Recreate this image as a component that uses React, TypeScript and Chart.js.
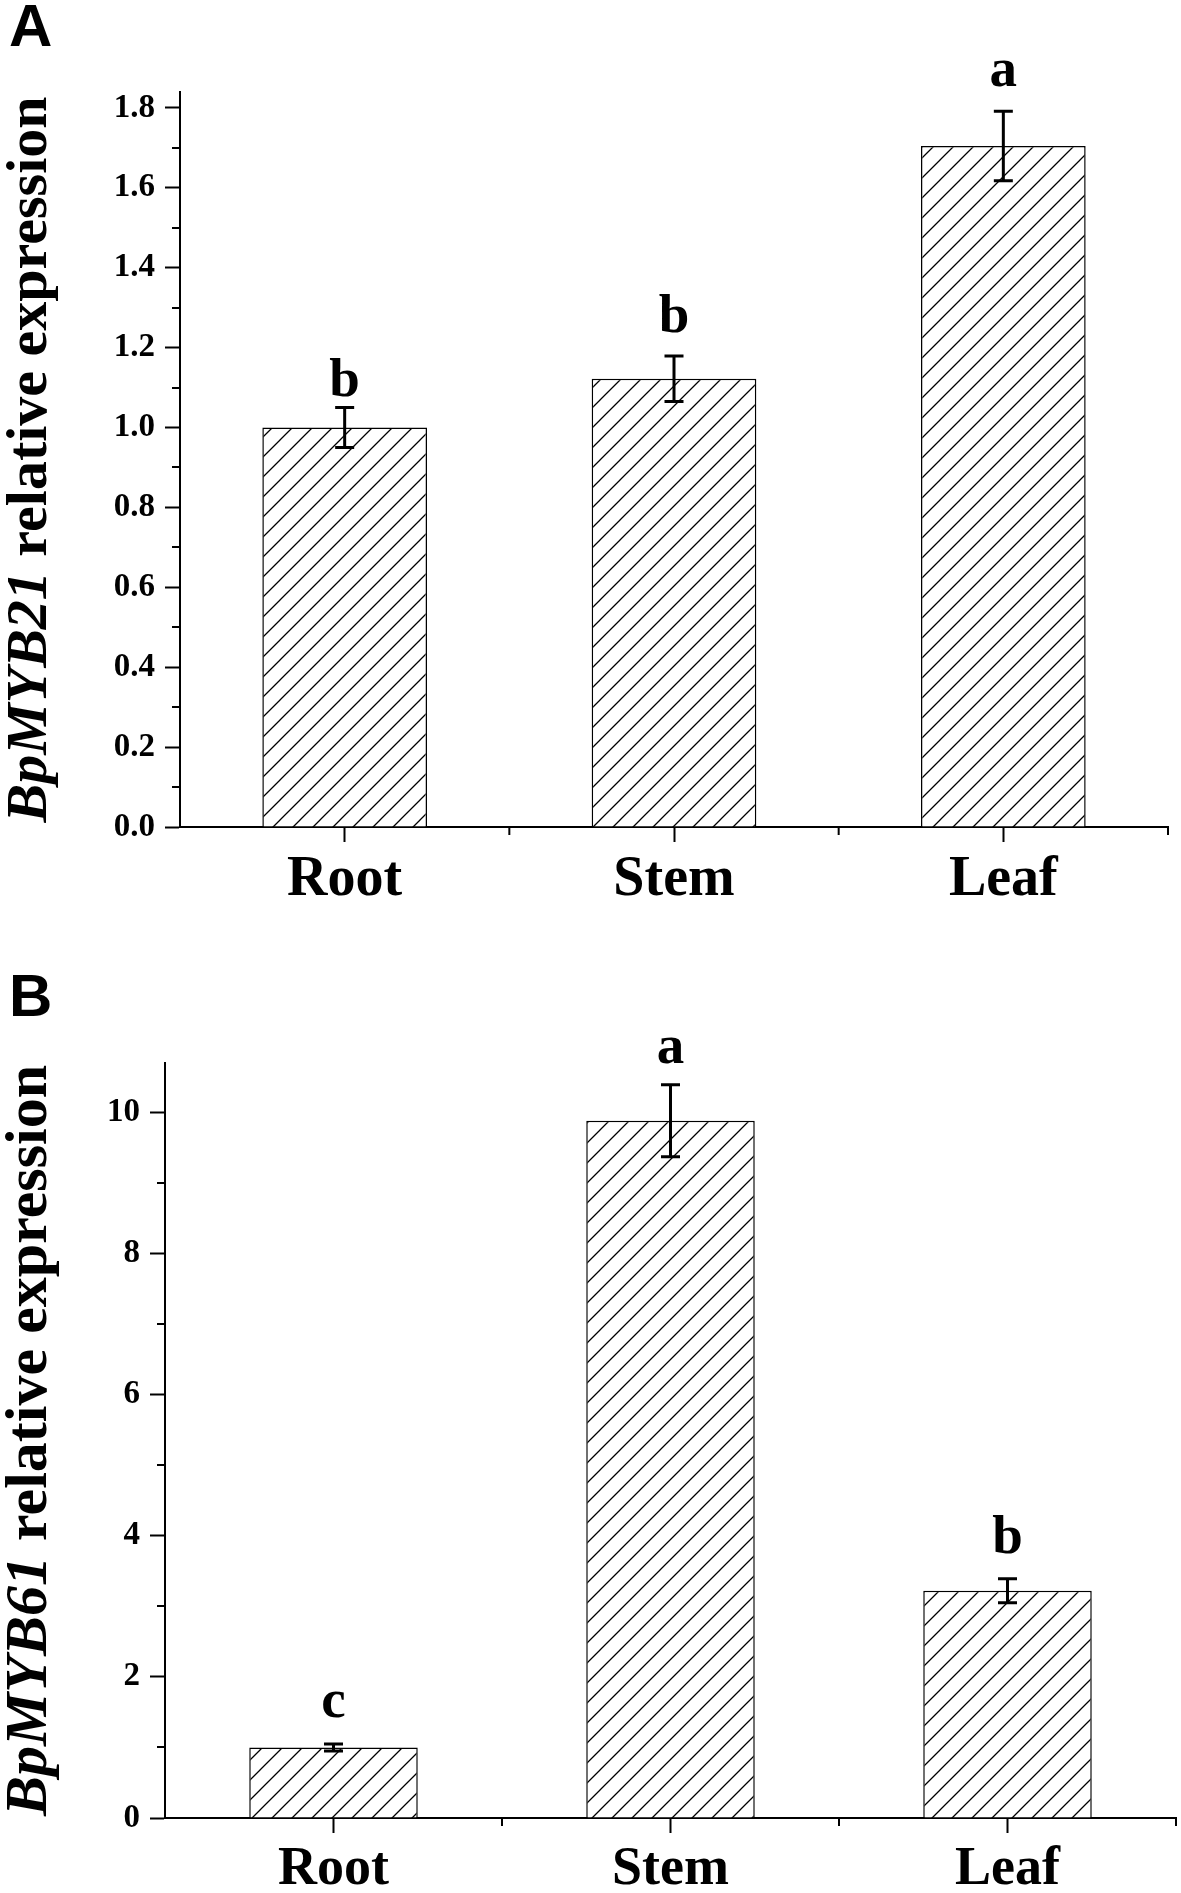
import React, { useEffect, useRef } from "react";
import { Chart, registerables } from "chart.js";

Chart.register(...registerables);

// ---------- data ----------
const categories = ["Root", "Stem", "Leaf"];

const valuesA = [1.0, 1.122, 1.705];
const errorsA = [0.05, 0.057, 0.087];
const lettersA = ["b", "b", "a"];
const letterBaseA = [1.08, 1.24, 1.855];
const geneA = "BpMYB21";
const yMaxA = 1.84;
const yStepA = 0.2;

const valuesB = [1.0, 9.88, 3.22];
const errorsB = [0.05, 0.51, 0.17];
const lettersB = ["c", "a", "b"];
const letterBaseB = [1.43, 10.7, 3.76];
const geneB = "BpMYB61";
const yMaxB = 10.7;
const yStepB = 2;

const titleRest = " relative expression";
const SERIF = "'Liberation Serif', 'Times New Roman', serif";
const SANS = "'Liberation Sans', Arial, sans-serif";

function makeHatch(): CanvasPattern | string {
  const c = document.createElement("canvas");
  const s = 20;
  c.width = s;
  c.height = s;
  const g = c.getContext("2d");
  if (!g) return "#fff";
  g.fillStyle = "#fff";
  g.fillRect(0, 0, s, s);
  g.strokeStyle = "#000";
  g.lineWidth = 1.3;
  g.beginPath();
  g.moveTo(-2, s + 2);
  g.lineTo(s + 2, -2);
  g.moveTo(-2, 2);
  g.lineTo(2, -2);
  g.moveTo(s - 2, s + 2);
  g.lineTo(s + 2, s - 2);
  g.stroke();
  const p = g.createPattern(c, "repeat");
  return p || "#fff";
}

const overlayPlugin = {
  id: "overlay",
  afterDraw(chart: any, _args: any, opts: any) {
    const { ctx, chartArea } = chart;
    const xs = chart.scales.x;
    const ys = chart.scales.y;
    const meta = chart.getDatasetMeta(0);
    ctx.save();
    ctx.strokeStyle = "#000";
    ctx.fillStyle = "#000";

    // minor y ticks
    ctx.lineWidth = 2;
    const yMax = ys.max;
    for (let v = opts.yStep / 2; v < yMax; v += opts.yStep) {
      const py = Math.round(ys.getPixelForValue(v));
      ctx.beginPath();
      ctx.moveTo(chartArea.left - 8, py);
      ctx.lineTo(chartArea.left, py);
      ctx.stroke();
    }
    // minor x ticks at category boundaries
    for (let k = 0; k < opts.values.length; k++) {
      const px = xs.getPixelForValue(k + 0.5);
      ctx.beginPath();
      ctx.moveTo(px, chartArea.bottom);
      ctx.lineTo(px, chartArea.bottom + 8);
      ctx.stroke();
    }

    // error bars
    ctx.lineWidth = 3;
    opts.values.forEach((v: number, i: number) => {
      const bar = meta.data[i];
      const cx = bar.x;
      const e = opts.errors[i];
      const top = ys.getPixelForValue(v + e);
      const bot = ys.getPixelForValue(v - e);
      ctx.beginPath();
      ctx.moveTo(cx, top);
      ctx.lineTo(cx, bot);
      ctx.moveTo(cx - 9.5, top);
      ctx.lineTo(cx + 9.5, top);
      ctx.moveTo(cx - 9.5, bot);
      ctx.lineTo(cx + 9.5, bot);
      ctx.stroke();
    });

    // significance letters
    ctx.font = `bold ${opts.letterSize}px ${SERIF}`;
    ctx.textAlign = "center";
    ctx.textBaseline = "alphabetic";
    opts.letters.forEach((l: string, i: number) => {
      const bar = meta.data[i];
      ctx.fillText(l, bar.x, ys.getPixelForValue(opts.letterBase[i]));
    });

    // y title (mixed italic)
    const cy = (chartArea.top + chartArea.bottom) / 2;
    ctx.translate(opts.titleX, cy);
    ctx.rotate(-Math.PI / 2);
    const fItal = `italic bold ${opts.titleSize}px ${SERIF}`;
    const fNorm = `bold ${opts.titleSize}px ${SERIF}`;
    ctx.font = fItal;
    const w1 = ctx.measureText(opts.gene).width;
    ctx.font = fNorm;
    const w2 = ctx.measureText(titleRest).width;
    const start = -(w1 + w2) / 2;
    ctx.textAlign = "left";
    ctx.font = fItal;
    ctx.fillText(opts.gene, start, 0);
    ctx.font = fNorm;
    ctx.fillText(titleRest, start + w1, 0);
    ctx.restore();

    // panel label
    ctx.save();
    ctx.fillStyle = "#000";
    ctx.font = `bold ${opts.panelSize}px ${SANS}`;
    ctx.textAlign = "left";
    ctx.textBaseline = "alphabetic";
    ctx.fillText(opts.panel, opts.panelX, opts.panelY);
    ctx.restore();
  },
};

type PanelProps = {
  values: number[];
  errors: number[];
  letters: string[];
  letterBase: number[];
  gene: string;
  yMax: number;
  yStep: number;
  decimals: number;
  panel: string;
  width: number;
  height: number;
  padTop: number;
  padRight: number;
  yAxisWidth: number;
  xAxisHeight: number;
  xFont: number;
  titleSize: number;
  panelY: number;
};

function Panel(p: PanelProps) {
  const ref = useRef<HTMLCanvasElement | null>(null);
  useEffect(() => {
    if (!ref.current) return;
    const hatch = makeHatch();
    const chart = new Chart(ref.current, {
      type: "bar",
      data: {
        labels: categories,
        datasets: [
          {
            data: p.values,
            backgroundColor: hatch as any,
            borderColor: "#000",
            borderWidth: 1.5,
            barPercentage: 0.5,
            categoryPercentage: 1,
          },
        ],
      },
      options: {
        responsive: false,
        animation: false,
        devicePixelRatio: 1,
        layout: { padding: { top: p.padTop, right: p.padRight, left: 0, bottom: 0 } },
        plugins: {
          legend: { display: false },
          tooltip: { enabled: false },
          overlay: {
            values: p.values,
            errors: p.errors,
            letters: p.letters,
            letterBase: p.letterBase,
            gene: p.gene,
            yStep: p.yStep,
            letterSize: 55,
            titleSize: p.titleSize,
            titleX: 46,
            panel: p.panel,
            panelSize: 60,
            panelX: 9,
            panelY: p.panelY,
          },
        } as any,
        scales: {
          x: {
            offset: true,
            grid: {
              offset: false,
              drawOnChartArea: false,
              drawTicks: true,
              tickLength: 15,
              tickWidth: 2,
              tickColor: "#000",
            },
            border: { display: true, color: "#000", width: 2 },
            ticks: {
              color: "#000",
              padding: 5,
              font: { family: SERIF, size: p.xFont, weight: "bold" },
            },
            afterFit: (s: any) => {
              s.height = p.xAxisHeight;
            },
          },
          y: {
            min: 0,
            max: p.yMax,
            grid: {
              drawOnChartArea: false,
              drawTicks: true,
              tickLength: 15,
              tickWidth: 2,
              tickColor: "#000",
            },
            border: { display: true, color: "#000", width: 2 },
            ticks: {
              stepSize: p.yStep,
              includeBounds: false,
              color: "#000",
              padding: 10,
              font: { family: SERIF, size: 33, weight: "bold" },
              callback: (v: any) => Number(v).toFixed(p.decimals),
            },
            afterFit: (s: any) => {
              s.width = p.yAxisWidth;
            },
          },
        },
      },
      plugins: [overlayPlugin as any],
    });
    return () => chart.destroy();
  }, []);
  return (
    <canvas
      ref={ref}
      width={p.width}
      height={p.height}
      style={{ display: "block", width: p.width, height: p.height }}
    />
  );
}

export default function App() {
  return (
    <div
      style={{
        position: "absolute",
        left: 0,
        top: 0,
        width: 1181,
        height: 1893,
        background: "#fff",
        overflow: "hidden",
      }}
    >
      <Panel
        values={valuesA}
        errors={errorsA}
        letters={lettersA}
        letterBase={letterBaseA}
        gene={geneA}
        yMax={yMaxA}
        yStep={yStepA}
        decimals={1}
        panel="A"
        width={1181}
        height={950}
        padTop={92}
        padRight={13}
        yAxisWidth={180}
        xAxisHeight={123}
        xFont={56}
        titleSize={58}
        panelY={46}
      />
      <Panel
        values={valuesB}
        errors={errorsB}
        letters={lettersB}
        letterBase={letterBaseB}
        gene={geneB}
        yMax={yMaxB}
        yStep={yStepB}
        decimals={0}
        panel="B"
        width={1181}
        height={943}
        padTop={113}
        padRight={5}
        yAxisWidth={165}
        xAxisHeight={75}
        xFont={54}
        titleSize={60}
        panelY={66}
      />
    </div>
  );
}
